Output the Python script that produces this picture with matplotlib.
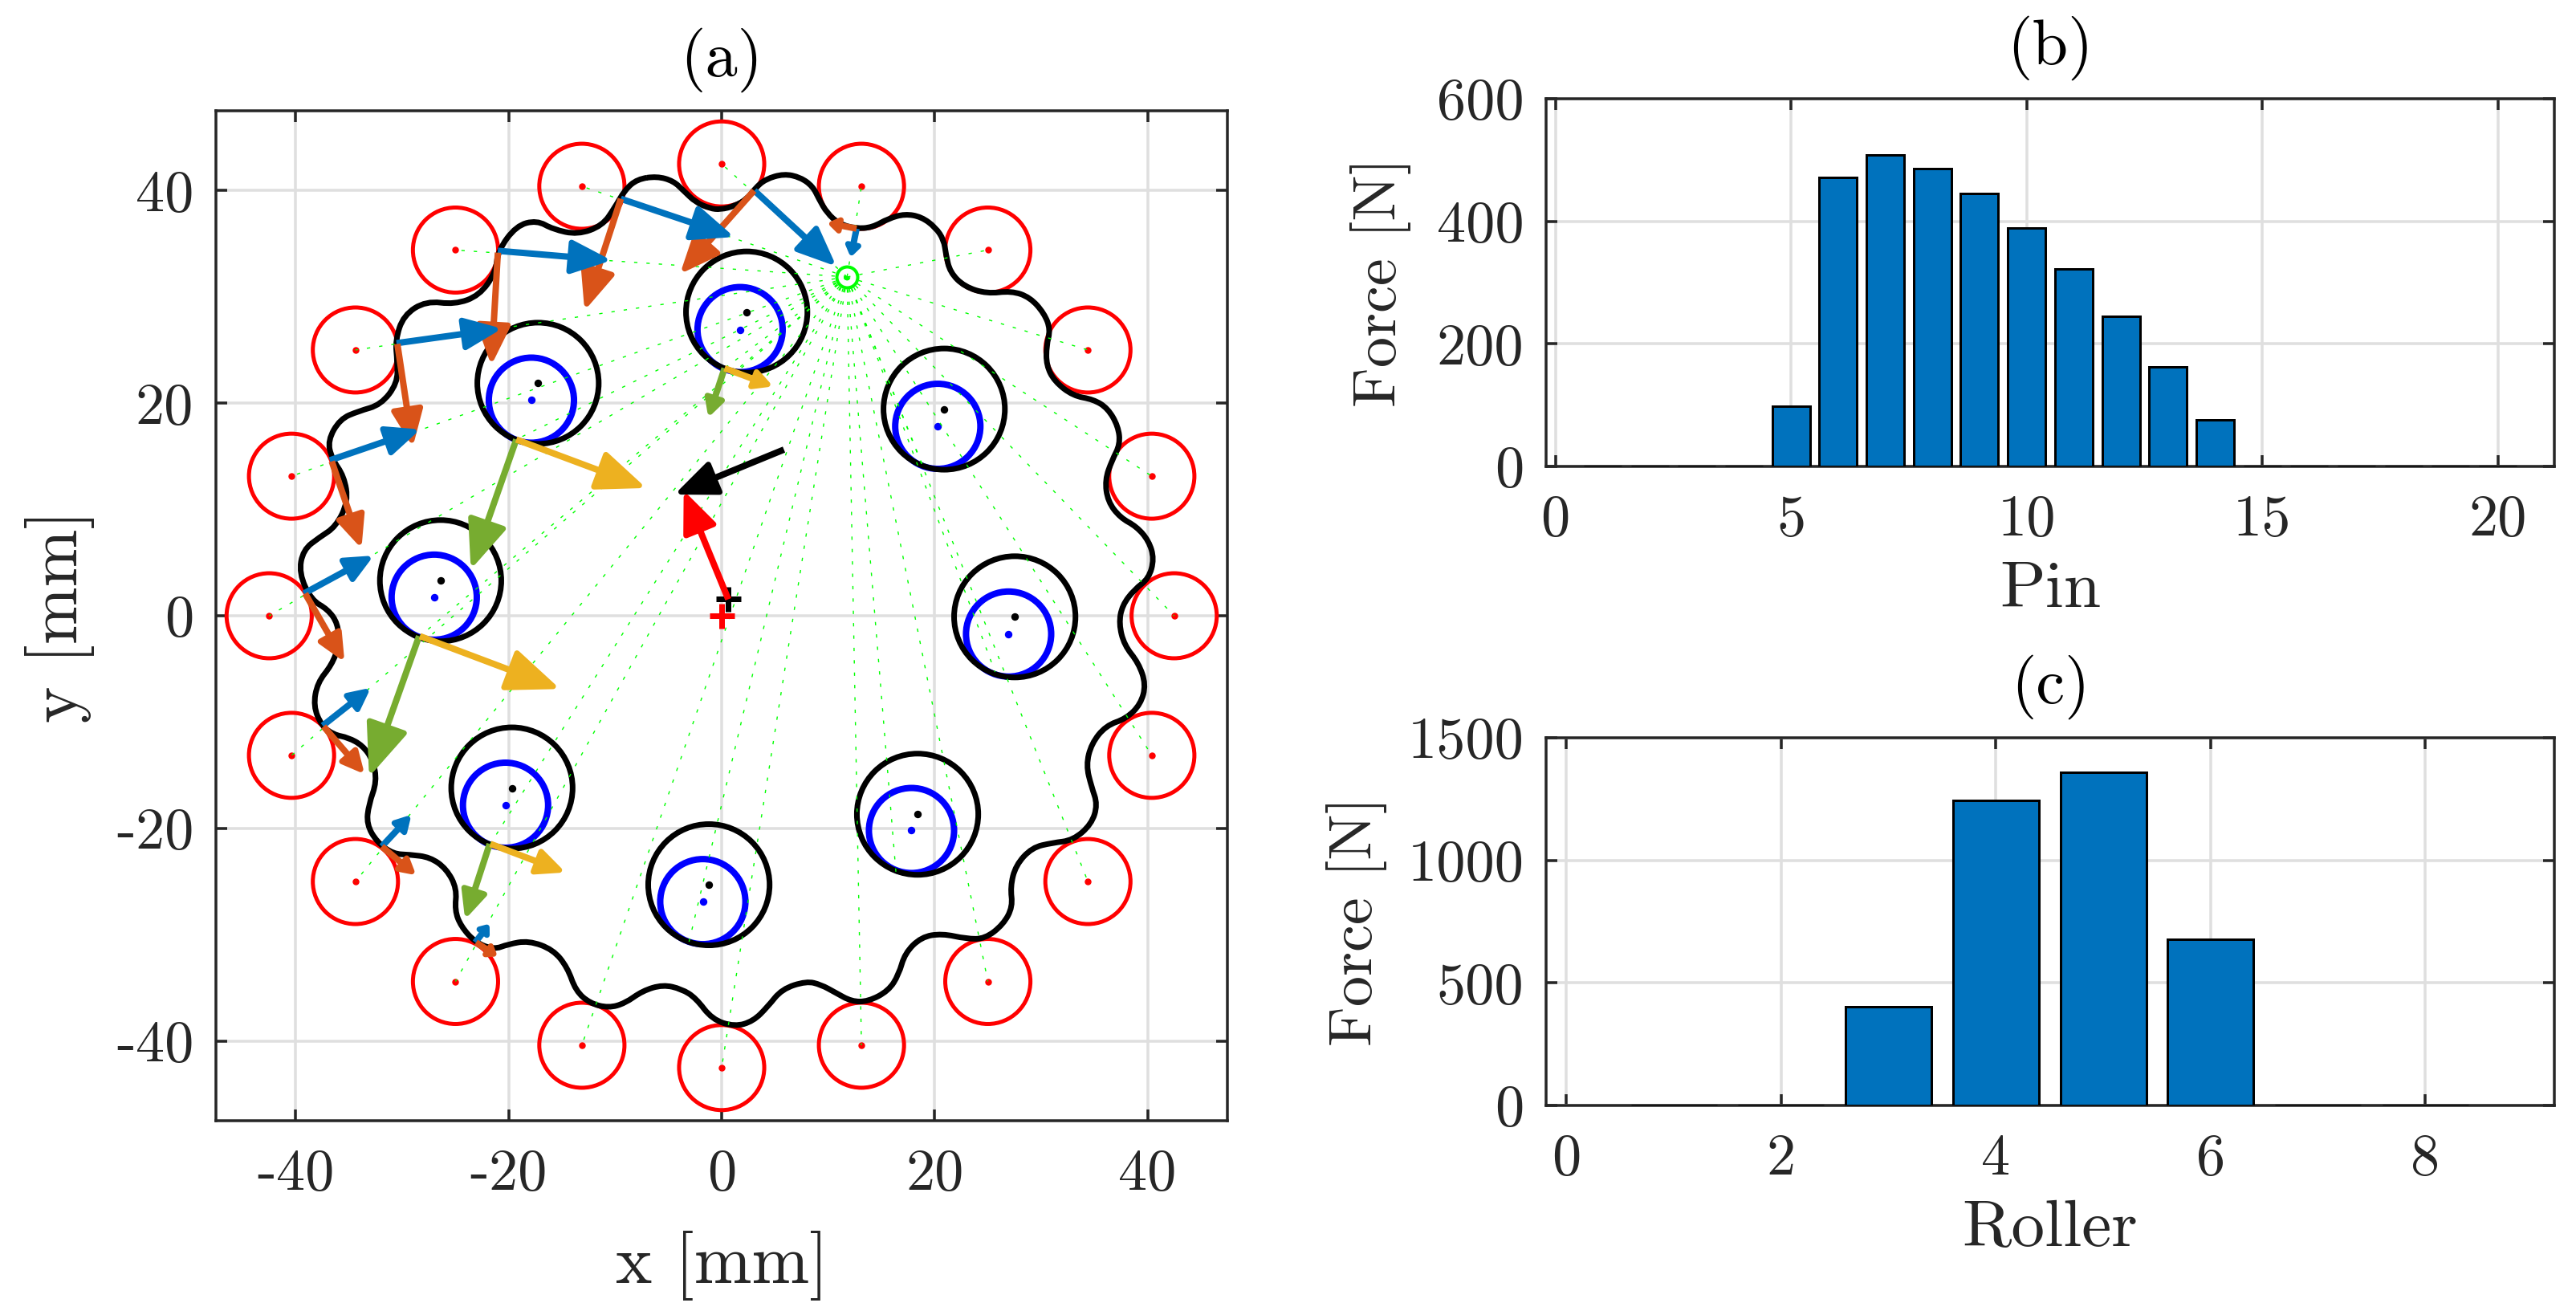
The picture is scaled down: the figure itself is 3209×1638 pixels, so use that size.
import numpy as np
import matplotlib
matplotlib.use('Agg')
import matplotlib.pyplot as plt
from matplotlib.patches import Circle, PathPatch
from matplotlib.path import Path

plt.rcParams['font.family'] = ['cmr10', 'DejaVu Serif']
plt.rcParams['axes.unicode_minus'] = False

W, H = 3209, 1638
DPI = 100
PT = 72 / DPI  # one pixel in points

BLUE = (0, 0.447, 0.741)
ORANGE = (0.85, 0.325, 0.098)
YELLOW = (0.929, 0.694, 0.125)
OLIVE = (0.466, 0.674, 0.188)
DARK = (0.15, 0.15, 0.15)
GRID = (0.875, 0.875, 0.875)
DOTTED = (0, (3, 8))

# ring pins
pin_x = [0, 13.13, 25.0, 34.4, 40.4, 42.5, 40.4, 34.4, 25.0, 13.13, 0, -13.13, -25.0, -34.4, -40.4, -42.5, -40.4, -34.4, -25.0, -13.13]
pin_y = [42.5, 40.4, 34.4, 25.0, 13.13, 0, -13.13, -25.0, -34.4, -40.4, -42.5, -40.4, -34.4, -25.0, -13.13, 0, 13.13, 25.0, 34.4, 40.4]

# disc holes (black) and output rollers (blue)
hole_x = [2.35, 20.9, 27.53, 18.4, -1.2, -19.7, -26.4, -17.25]
hole_y = [28.57, 19.44, -0.1, -18.67, -25.3, -16.2, 3.3, 21.87]
roller_x = [1.73, 20.3, 26.95, 17.83, -1.77, -20.3, -27.0, -17.87]
roller_y = [26.92, 17.82, -1.72, -20.2, -26.89, -17.82, 1.75, 20.28]
contact_x = [0.27, 18.95, 25.68, 16.37, -3.08, -21.72, -28.34, -19.29]
contact_y = [23.28, 13.95, -5.29, -24.16, -30.73, -21.46, -1.92, 16.58]

pitch_point = (11.78, 31.87)
disc_center = (0.58, 1.58)

# disc outline traced clockwise from the top
disc_x = [-6.08, -4.54, -3.58, -2.43, -1.08, -0.12, 1.23, 2.39, 3.16, 4.12, 5.85, 7.39, 8.55, 9.13, 9.90, 11.05,
          12.59, 14.13, 15.67, 17.21, 18.75, 20.10, 20.87, 21.06, 21.45, 22.80, 24.91, 27.22, 28.96, 30.30, 30.88,
          30.50, 30.50, 31.27, 33.0, 34.92, 36.27, 37.24, 37.43, 36.66, 36.0, 36.27, 37.43, 38.97, 40.12, 40.62,
          40.12, 38.78, 37.62, 37.31, 37.81, 39.16, 39.85, 39.35, 38.0, 36.08, 34.73, 34.23, 34.73, 35.31, 34.73,
          33.0, 31.07, 29.15, 27.61, 27.11, 27.34, 26.45, 24.72, 22.99, 20.68, 18.75, 17.21, 16.63, 15.67, 13.75,
          12.21, 10.67, 9.32, 7.97, 5.66, 4.31, 2.96, 1.23, -0.89, -2.43, -3.77, -5.51, -7.43, -9.09, -10.63,
          -12.36, -13.71, -14.48, -15.83, -18.14, -20.06, -21.41, -23.14, -24.49, -25.07, -24.87, -25.84, -27.38,
          -29.30, -30.84, -32.38, -33.35, -33.15, -32.38, -32.77, -33.73, -35.08, -36.43, -37.58, -38.35, -37.97,
          -36.62, -35.93, -36.04, -37.0, -38.54, -39.70, -39.31, -37.77, -36.23, -35.08, -35.46, -36.62, -37.0,
          -35.85, -34.12, -32.0, -30.46, -30.46, -30.65, -29.88, -27.76, -25.07, -22.76, -21.22, -21.02, -19.29,
          -17.37, -15.83, -13.52, -11.21, -10.05, -9.09, -7.93]
disc_y = [41.34, 40.90, 39.99, 38.88, 38.31, 38.21, 38.54, 39.22, 40.23, 41.07, 41.58, 41.24, 40.40, 39.22, 37.87, 36.86,
          36.42, 36.52, 37.37, 37.80, 37.53, 36.52, 35.34, 34.0, 32.31, 30.96, 30.29, 30.56, 29.95, 28.44, 26.92,
          25.40, 23.55, 22.04, 20.69, 20.35, 19.51, 17.82, 16.14, 14.62, 12.77, 10.75, 9.23, 8.39, 7.04, 5.36,
          3.50, 2.49, 0.98, -0.74, -2.76, -4.45, -6.47, -8.32, -9.67, -10.34, -12.03, -14.05, -16.07, -17.76, -19.61,
          -21.12, -21.36, -21.80, -23.48, -25.51, -27.36, -29.04, -30.39, -30.39, -29.89, -30.22, -31.74, -33.76, -35.28, -36.29,
          -36.29, -35.44, -34.7, -34.37, -35.11, -36.79, -38.14, -38.65, -37.98, -35.95, -35.11, -34.70, -35.28, -36.46, -36.89,
          -36.46, -35.28, -33.09, -31.40, -30.56, -30.90, -31.40, -30.73, -29.21, -27.70, -25.67, -23.82, -22.71,
          -22.47, -22.41, -21.29, -19.61, -17.76, -15.57, -13.54, -12.20, -11.46, -11.19, -10.34, -8.49, -6.30,
          -4.62, -2.76, -0.74, 0.61, 1.48, 4.01, 6.20, 7.38, 8.39, 10.75, 13.11, 14.79, 16.48,
          18.50, 19.24, 19.85, 21.87, 23.89, 25.91, 28.27, 29.62, 29.28, 30.12, 32.31, 34.33, 36.69,
          37.20, 36.35, 35.85, 36.69, 38.38, 40.06, 41.07]

# force arrows: x0, y0, x1, y1, pin by pin anticlockwise so later pins sit on top
pin_normal = [(12.67, 36.42, 12.21, 34.16), (3.08, 39.99, 10.28, 33.32), (-9.47, 39.22, 0.54, 35.85),
              (-21.02, 34.33, -11.01, 33.49), (-30.54, 25.64, -21.29, 26.92), (-36.81, 14.62, -28.92, 17.32),
              (-39.24, 2.09, -33.23, 5.36), (-37.47, -10.34, -33.42, -7.14), (-31.92, -21.70, -29.50, -19.10),
              (-23.14, -30.73, -22.06, -29.31)]
pin_tangent = [(12.67, 36.42, 10.36, 36.86), (3.04, 39.99, -3.47, 32.65), (-9.47, 39.22, -12.67, 29.35),
               (-21.02, 34.16, -21.6, 24.22), (-30.46, 25.57, -29.11, 16.54), (-36.62, 14.52, -34.04, 6.94),
               (-39.12, 2.09, -35.73, -3.81), (-37.39, -10.41, -33.92, -14.45), (-31.92, -21.70, -29.11, -24.06),
               (-23.07, -30.73, -21.41, -31.81)]
roller_normal = [(-19.29, 16.58, -7.74, 12.26), (0.27, 23.28, 4.31, 21.77), (-28.34, -1.92, -15.83, -6.64),
                 (-21.72, -21.46, -15.25, -23.92)]
roller_tangent = [(-19.29, 16.58, -23.33, 5.02), (0.27, 23.28, -1.08, 19.17), (-28.42, -1.92, -32.88, -14.49),
                  (-21.79, -21.46, -23.91, -27.97)]
resultant_black = (5.85, 15.63, -3.81, 11.66)
resultant_red = (0.62, 1.55, -3.31, 11.15)

pin_numbers = list(range(1, 21))
pin_force = [0, 0, 0, 0, 98, 471, 508, 486, 445, 389, 322, 245, 163, 76, 0, 0, 0, 0, 0, 0]
roller_numbers = list(range(1, 9))
roller_force = [0, 0, 404, 1246, 1360, 677, 0, 0]


def px_axes(fig, left, top, right, bottom):
    return fig.add_axes([left / W, 1 - bottom / H, (right - left) / W, (bottom - top) / H])


def style_axes(ax):
    ax.set_axisbelow(True)
    ax.grid(True, color=GRID, lw=3.5 * PT)
    for spine in ax.spines.values():
        spine.set_linewidth(3.5 * PT)
        spine.set_color(DARK)
    ax.tick_params(direction='in', length=14 * PT, width=3.5 * PT, color=DARK, top=True, right=True,
                   labelsize=52, labelcolor=DARK)
    ax.tick_params(axis='x', pad=25)
    ax.tick_params(axis='y', pad=20)


def draw_arrow(ax, arrow, color):
    x0, y0, x1, y1 = arrow
    start = np.array([x0, y0])
    tip = np.array([x1, y1])
    length = np.hypot(*(tip - start))
    u = (tip - start) / length
    n = np.array([-u[1], u[0]])
    head_l = 0.32 * length
    head_w = 0.11 * length + 0.25
    back = tip - u * head_l
    ax.plot([x0, back[0]], [y0, back[1]], color=color, lw=8 * PT, solid_capstyle='butt', zorder=6)
    head = np.array([tip, back + n * head_w, back - n * head_w])
    ax.fill(head[:, 0], head[:, 1], facecolor=color, edgecolor=color, lw=7 * PT, joinstyle='round', zorder=6)


fig = plt.figure(figsize=(W / DPI, H / DPI), dpi=DPI)

# (a) contact forces
ax = px_axes(fig, 269, 138, 1529, 1396)
style_axes(ax)
ax.set_xlim(-47.5, 47.5)
ax.set_ylim(-47.5, 47.5)
ax.set_xticks([-40, -20, 0, 20, 40])
ax.set_yticks([-40, -20, 0, 20, 40])
ax.set_xticklabels(['-40', '-20', '0', '20', '40'])
ax.set_yticklabels(['-40', '-20', '0', '20', '40'])
ax.set_xlabel('x [mm]', fontsize=62, color=DARK, labelpad=27)
ax.set_ylabel('y [mm]', fontsize=62, color=DARK, va='center')
ax.yaxis.set_label_coords(-0.154, 0.5)
ax.set_title('(a)', fontsize=58, pad=31)

for px, py in zip(pin_x, pin_y):
    ax.add_patch(Circle((px, py), 4, fill=False, ec='red', lw=5 * PT, zorder=2))
    ax.plot(px, py, 'o', color='red', ms=7 * PT, zorder=2)
    ax.plot([pitch_point[0], px], [pitch_point[1], py], ls=DOTTED, color=(0, 1, 0), lw=1.4 * PT, zorder=5)

for i in range(len(hole_x)):
    ax.add_patch(Circle((roller_x[i], roller_y[i]), 4, fill=False, ec='blue', lw=8 * PT, zorder=3))
    ax.add_patch(Circle((hole_x[i], hole_y[i]), 5.7, fill=False, ec='black', lw=7 * PT, zorder=4))
    ax.plot(roller_x[i], roller_y[i], 'o', color='blue', ms=8 * PT, zorder=4)
    ax.plot(hole_x[i], hole_y[i], 'o', color='black', ms=8 * PT, zorder=4)
    ax.plot([pitch_point[0], contact_x[i]], [pitch_point[1], contact_y[i]], ls=DOTTED, color=(0, 1, 0), lw=1.4 * PT, zorder=5)

# smooth closed outline through the traced points
pts = np.column_stack([disc_x, disc_y])
mids = (pts + np.roll(pts, -1, axis=0)) / 2
verts = [mids[-1]]
codes = [Path.MOVETO]
for p, m in zip(pts, mids):
    verts += [p, m]
    codes += [Path.CURVE3, Path.CURVE3]
ax.add_patch(PathPatch(Path(verts, codes), fill=False, ec='black', lw=7 * PT, zorder=4))

for normal, tangent in zip(pin_normal, pin_tangent):
    draw_arrow(ax, normal, BLUE)
    draw_arrow(ax, tangent, ORANGE)
for normal, tangent in zip(roller_normal, roller_tangent):
    draw_arrow(ax, tangent, OLIVE)
    draw_arrow(ax, normal, YELLOW)
draw_arrow(ax, resultant_black, 'black')
draw_arrow(ax, resultant_red, 'red')

ax.plot(*disc_center, '+', color='black', ms=31 * PT, mew=7 * PT, zorder=5)
ax.plot(0, 0, '+', color='red', ms=31 * PT, mew=7 * PT, zorder=5)
ax.plot(*pitch_point, 'o', mfc='none', mec=(0, 1, 0), ms=26 * PT, mew=4 * PT, zorder=5)

# (b) pin forces
ax_b = px_axes(fig, 1926, 123, 3182, 581)
style_axes(ax_b)
ax_b.bar(pin_numbers, pin_force, width=0.8, color=BLUE, edgecolor='black', lw=3 * PT, zorder=3)
ax_b.set_xlim(-0.2, 21.2)
ax_b.set_ylim(0, 600)
ax_b.set_xticks([0, 5, 10, 15, 20])
ax_b.set_yticks([0, 200, 400, 600])
ax_b.set_xlabel('Pin', fontsize=60, color=DARK, labelpad=13)
ax_b.set_ylabel('Force [N]', fontsize=55, color=DARK, va='center')
ax_b.yaxis.set_label_coords(-0.164, 0.5)
ax_b.set_title('(b)', fontsize=58, pad=31)

# (c) roller forces
ax_c = px_axes(fig, 1926, 919, 3182, 1377)
style_axes(ax_c)
ax_c.bar(roller_numbers, roller_force, width=0.8, color=BLUE, edgecolor='black', lw=3 * PT, zorder=3)
ax_c.set_xlim(-0.19, 9.2)
ax_c.set_ylim(0, 1500)
ax_c.set_xticks([0, 2, 4, 6, 8])
ax_c.set_yticks([0, 500, 1000, 1500])
ax_c.set_xlabel('Roller', fontsize=60, color=DARK, labelpad=13)
ax_c.set_ylabel('Force [N]', fontsize=55, color=DARK, va='center')
ax_c.yaxis.set_label_coords(-0.188, 0.5)
ax_c.set_title('(c)', fontsize=58, pad=31)

fig.savefig('out.png', dpi=DPI)
